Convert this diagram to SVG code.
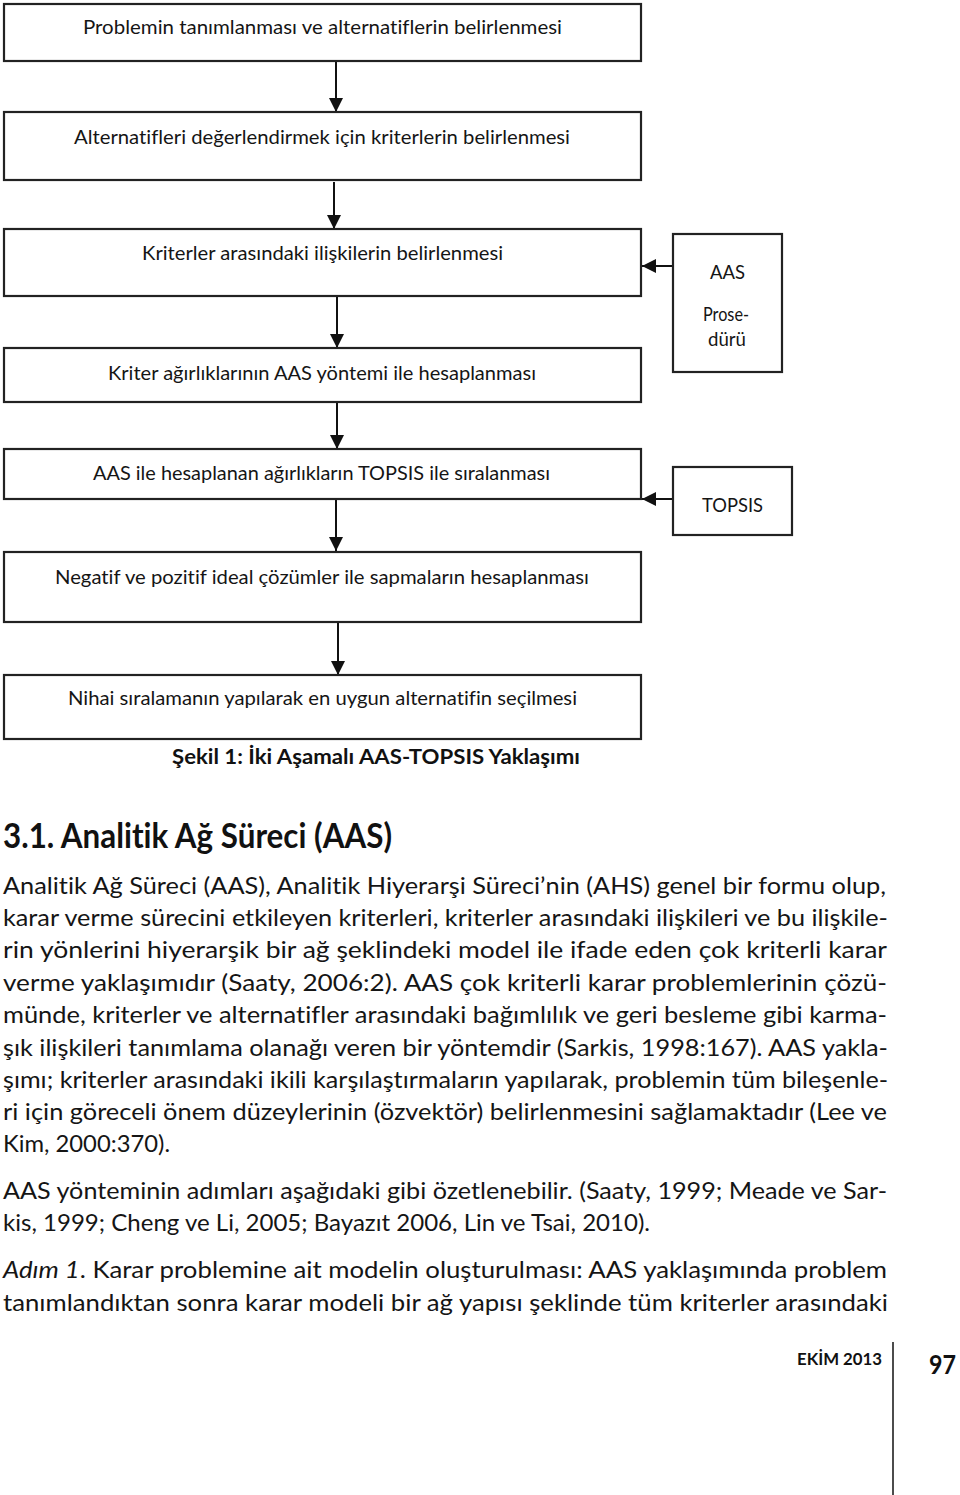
<svg xmlns="http://www.w3.org/2000/svg" width="960" height="1495" viewBox="0 0 960 1495">
<style>
  text { font-variant-ligatures: none; }
  .box { fill: #fff; stroke: #222; stroke-width: 2.2; }
  .conn { stroke: #111; stroke-width: 2; fill: none; }
  .t { font-family: Lato, "Open Sans", "Noto Sans", sans-serif; font-size: 20px; fill: #151515; }
  .cap { font-family: Lato, "Open Sans", "Noto Sans", sans-serif; font-size: 21px; font-weight: bold; fill: #111; }
  .h { font-family: Lato, "Open Sans", "Noto Sans", sans-serif; font-size: 34px; font-weight: bold; fill: #111; }
  .p { font-family: Lato, "Open Sans", "Noto Sans", sans-serif; font-size: 24px; fill: #151515; }
  .f1 { font-family: Lato, "Open Sans", "Noto Sans", sans-serif; font-size: 17px; font-weight: bold; fill: #111; }
  .f2 { font-family: Lato, "Open Sans", "Noto Sans", sans-serif; font-size: 26px; font-weight: bold; fill: #111; }
</style>
<defs>
  <marker id="ah" viewBox="0 0 14 14" refX="14" refY="7" markerWidth="14" markerHeight="14" markerUnits="userSpaceOnUse" orient="auto">
    <path d="M0,0 L14,7 L0,14 z" fill="#111"/>
  </marker>
</defs>
<rect width="960" height="1495" fill="#fff"/>

<g id="connectors">
  <line class="conn" x1="336" y1="61" x2="336" y2="112" marker-end="url(#ah)"/>
  <line class="conn" x1="334" y1="182" x2="334" y2="229" marker-end="url(#ah)"/>
  <line class="conn" x1="337" y1="297" x2="337" y2="348" marker-end="url(#ah)"/>
  <line class="conn" x1="337" y1="398" x2="337" y2="449" marker-end="url(#ah)"/>
  <line class="conn" x1="336" y1="499" x2="336" y2="551" marker-end="url(#ah)"/>
  <line class="conn" x1="338" y1="622" x2="338" y2="675" marker-end="url(#ah)"/>
  <line class="conn" x1="673" y1="266" x2="642" y2="266" marker-end="url(#ah)"/>
  <line class="conn" x1="673" y1="499" x2="642" y2="499" marker-end="url(#ah)"/>
</g>

<g id="n1">
  <rect class="box" x="4" y="4" width="637" height="57"/>
  <text class="t" x="83" y="34" textLength="479" lengthAdjust="spacingAndGlyphs">Problemin tanımlanması ve alternatiflerin belirlenmesi</text>
</g>
<g id="n2">
  <rect class="box" x="4" y="112" width="637" height="68"/>
  <text class="t" x="74" y="144" textLength="496" lengthAdjust="spacingAndGlyphs">Alternatifleri değerlendirmek için kriterlerin belirlenmesi</text>
</g>
<g id="n3">
  <rect class="box" x="4" y="229" width="637" height="67"/>
  <text class="t" x="142" y="260" textLength="361" lengthAdjust="spacingAndGlyphs">Kriterler arasındaki ilişkilerin belirlenmesi</text>
</g>
<g id="n4">
  <rect class="box" x="4" y="348" width="637" height="54"/>
  <text class="t" x="108" y="380" textLength="428" lengthAdjust="spacingAndGlyphs">Kriter ağırlıklarının AAS yöntemi ile hesaplanması</text>
</g>
<g id="n5">
  <rect class="box" x="4" y="449" width="637" height="50"/>
  <text class="t" x="93" y="480" textLength="457" lengthAdjust="spacingAndGlyphs">AAS ile hesaplanan ağırlıkların TOPSIS ile sıralanması</text>
</g>
<g id="n6">
  <rect class="box" x="4" y="552" width="637" height="70"/>
  <text class="t" x="55" y="584" textLength="534" lengthAdjust="spacingAndGlyphs">Negatif ve pozitif ideal çözümler ile sapmaların hesaplanması</text>
</g>
<g id="n7">
  <rect class="box" x="4" y="675" width="637" height="64"/>
  <text class="t" x="68" y="705" textLength="509" lengthAdjust="spacingAndGlyphs">Nihai sıralamanın yapılarak en uygun alternatifin seçilmesi</text>
</g>
<g id="aas">
  <rect class="box" x="673" y="234" width="109" height="138"/>
  <text class="t" x="710" y="279" textLength="35" lengthAdjust="spacingAndGlyphs">AAS</text>
  <text class="t" x="703" y="321" textLength="46" lengthAdjust="spacingAndGlyphs">Prose-</text>
  <text class="t" x="708" y="346" textLength="38" lengthAdjust="spacingAndGlyphs">dürü</text>
</g>
<g id="topsis">
  <rect class="box" x="673" y="467" width="119" height="68"/>
  <text class="t" x="702" y="512" textLength="61" lengthAdjust="spacingAndGlyphs">TOPSIS</text>
</g>

<text class="cap" x="172" y="764" textLength="408" lengthAdjust="spacingAndGlyphs">Şekil 1: İki Aşamalı AAS-TOPSIS Yaklaşımı</text>

<text class="h" x="3" y="848" textLength="389" lengthAdjust="spacingAndGlyphs">3.1. Analitik Ağ Süreci (AAS)</text>

<text class="p" x="3" y="894" textLength="883" lengthAdjust="spacingAndGlyphs">Analitik Ağ Süreci (AAS), Analitik Hiyerarşi Süreci’nin (AHS) genel bir formu olup,</text>
<text class="p" x="3" y="926" textLength="885" lengthAdjust="spacingAndGlyphs">karar verme sürecini etkileyen kriterleri, kriterler arasındaki ilişkileri ve bu ilişkile-</text>
<text class="p" x="3" y="958" textLength="884" lengthAdjust="spacingAndGlyphs">rin yönlerini hiyerarşik bir ağ şeklindeki model ile ifade eden çok kriterli karar</text>
<text class="p" x="3" y="991" textLength="884" lengthAdjust="spacingAndGlyphs">verme yaklaşımıdır (Saaty, 2006:2). AAS çok kriterli karar problemlerinin çözü-</text>
<text class="p" x="3" y="1023" textLength="884" lengthAdjust="spacingAndGlyphs">münde, kriterler ve alternatifler arasındaki bağımlılık ve geri besleme gibi karma-</text>
<text class="p" x="3" y="1056" textLength="885" lengthAdjust="spacingAndGlyphs">şık ilişkileri tanımlama olanağı veren bir yöntemdir (Sarkis, 1998:167). AAS yakla-</text>
<text class="p" x="3" y="1088" textLength="885" lengthAdjust="spacingAndGlyphs">şımı; kriterler arasındaki ikili karşılaştırmaların yapılarak, problemin tüm bileşenle-</text>
<text class="p" x="3" y="1120" textLength="884" lengthAdjust="spacingAndGlyphs">ri için göreceli önem düzeylerinin (özvektör) belirlenmesini sağlamaktadır (Lee ve</text>
<text class="p" x="3" y="1152" textLength="167" lengthAdjust="spacingAndGlyphs">Kim, 2000:370).</text>

<text class="p" x="3" y="1199" textLength="884" lengthAdjust="spacingAndGlyphs">AAS yönteminin adımları aşağıdaki gibi özetlenebilir. (Saaty, 1999; Meade ve Sar-</text>
<text class="p" x="3" y="1231" textLength="647" lengthAdjust="spacingAndGlyphs">kis, 1999; Cheng ve Li, 2005; Bayazıt 2006, Lin ve Tsai, 2010).</text>

<text class="p" x="3" y="1278" textLength="884" lengthAdjust="spacingAndGlyphs"><tspan font-style="italic">Adım 1</tspan>. Karar problemine ait modelin oluşturulması: AAS yaklaşımında problem</text>
<text class="p" x="3" y="1311" textLength="885" lengthAdjust="spacingAndGlyphs">tanımlandıktan sonra karar modeli bir ağ yapısı şeklinde tüm kriterler arasındaki</text>

<g id="footer">
  <text class="f1" x="797" y="1365" textLength="85" lengthAdjust="spacingAndGlyphs">EKİM 2013</text>
  <line x1="893" y1="1342" x2="893" y2="1495" stroke="#111" stroke-width="1.5"/>
  <text class="f2" x="929" y="1374" textLength="27" lengthAdjust="spacingAndGlyphs">97</text>
</g>
</svg>
